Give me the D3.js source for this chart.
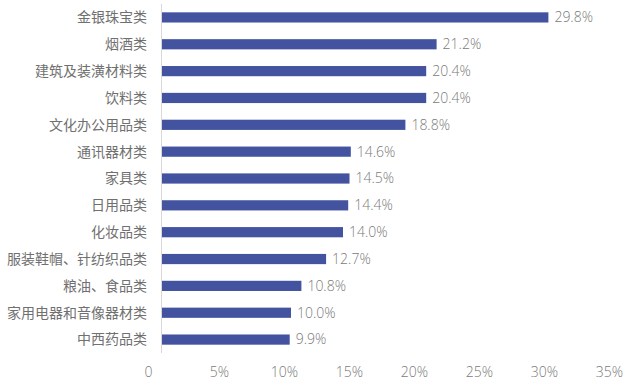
<!DOCTYPE html>
<meta charset="utf-8">
<script src="https://d3js.org/d3.v7.min.js"></script>
<html>
<head>
<style>
  body { margin: 0; background: #fff; }
  text { font-family: "Noto Sans CJK SC", "Open Sans", sans-serif; fill: #707070; }
  .num { font-family: "Open Sans", "Noto Sans", sans-serif; font-weight: 300; fill: #7a7a7a; }
</style>
</head>
<body>
<div id="chart"></div>
<script>
// categories top to bottom
var categories = ["金银珠宝类", "烟酒类", "建筑及装潢材料类", "饮料类", "文化办公用品类",
  "通讯器材类", "家具类", "日用品类", "化妆品类", "服装鞋帽、针纺织品类",
  "粮油、食品类", "家用电器和音像器材类", "中西药品类"];
var values = [29.8, 21.2, 20.4, 20.4, 18.8, 14.6, 14.5, 14.4, 14.0, 12.7, 10.8, 10.0, 9.9];
var tickValues = [0, 5, 10, 15, 20, 25, 30, 35];

var W = 644, H = 386;
var margin = {top: 4, right: 28, bottom: 33, left: 161};
var width = W - margin.left - margin.right,
    height = H - margin.top - margin.bottom;

var svg = d3.select("#chart").append("svg")
    .attr("width", W)
    .attr("height", H);

var g = svg.append("g")
    .attr("transform", "translate(" + margin.left + "," + margin.top + ")");

var x = d3.scaleLinear().domain([0, 35]).range([0, 455]);
var y = d3.scaleBand().domain(categories).range([0, height]).paddingInner(0.62).paddingOuter(0.31);

// bars
g.selectAll("rect.bar")
  .data(values)
  .enter().append("rect")
    .attr("class", "bar")
    .attr("x", 0)
    .attr("y", function(d, i) { return y(categories[i]); })
    .attr("width", function(d) { return x(d); })
    .attr("height", y.bandwidth())
    .attr("fill", "#4353a0");

// value labels
g.selectAll("text.val")
  .data(values)
  .enter().append("text")
    .attr("class", "val num")
    .attr("x", function(d) { return x(d) + 6; })
    .attr("y", function(d, i) { return y(categories[i]) + y.bandwidth() / 2; })
    .attr("dy", "0.35em")
    .style("font-size", "14px")
    .text(function(d) { return d.toFixed(1) + "%"; });

// vertical axis line
g.append("line")
    .attr("x1", 0.5).attr("x2", 0.5)
    .attr("y1", 0).attr("y2", height)
    .attr("stroke", "#d9d9d9")
    .attr("stroke-width", 1);

// category labels
g.selectAll("text.cat")
  .data(categories)
  .enter().append("text")
    .attr("class", "cat")
    .attr("x", -14)
    .attr("y", function(d) { return y(d) + y.bandwidth() / 2; })
    .attr("dy", "0.35em")
    .attr("text-anchor", "end")
    .style("font-size", "14px")
    .text(function(d) { return d; });

// x axis tick labels (no line)
var xAxis = d3.axisBottom(x)
    .tickValues(tickValues)
    .tickSize(0)
    .tickPadding(0)
    .tickFormat(function(d) { return d === 0 ? "0" : d + "%"; });

var ax = g.append("g")
    .attr("transform", "translate(0," + (height + 14) + ")")
    .call(xAxis);
ax.select(".domain").remove();
ax.selectAll("text")
    .attr("class", "num")
    .attr("dx", function(d) { return d === 0 ? -13 : -7; })
    .attr("fill", null)
    .style("font-size", "14px");
</script>
</body>
</html>
